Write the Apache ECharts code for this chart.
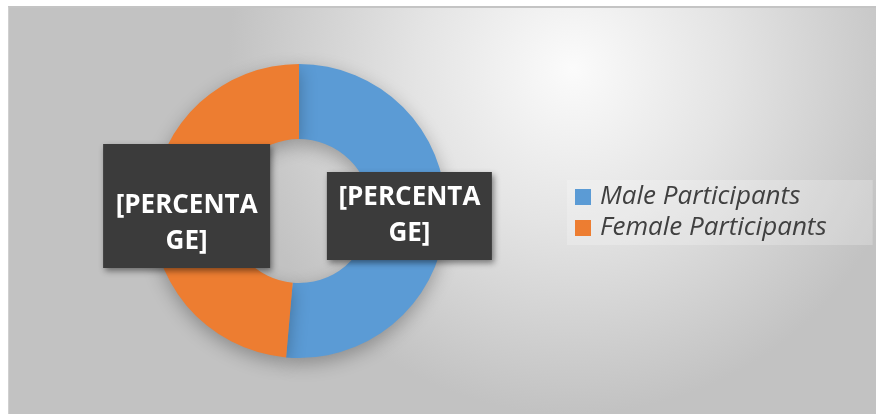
<!DOCTYPE html>
<html>
<head>
<meta charset="utf-8">
<script src="https://cdn.jsdelivr.net/npm/echarts@6/dist/echarts.min.js"></script>
<style>
  html, body { margin: 0; padding: 0; background: #ffffff; }
  #chart {
    position: absolute; left: 8px; top: 6px;
    width: 868px; height: 408px;
    border-top: 2px solid #c4c4c4; border-left: 1px solid #d0d0d0;
    box-sizing: border-box;
  }
</style>
</head>
<body>
<div id="chart"></div>
<script>
// data
var categories = ['Male Participants', 'Female Participants']
var shares = [51.4, 48.6]
var labelText = ['[PERCENTA\nGE]', '[PERCENTA\nGE]']
var colors = ['#5B9BD5', '#ED7D31']

var chart = echarts.init(document.getElementById('chart'))

// label boxes: the female one is taller, its text sits low (blank line on top)
var labelPads = [[8, 11, 8, 11], [8, 12, 8, 12]]
var labelSpacer = [false, true]

var pieData = categories.map(function (name, i) {
  return {
    name: name,
    value: shares[i],
    itemStyle: { color: colors[i] },
    label: { padding: labelPads[i], offset: [i === 0 ? -2 : 0, 0] }
  }
})

chart.setOption({
  backgroundColor: {
    type: 'radial', x: 0.65, y: 0.15, r: 0.85,
    colorStops: [
      { offset: 0, color: '#fbfbfb' },
      { offset: 0.45, color: '#e4e4e4' },
      { offset: 1, color: '#c2c2c2' }
    ]
  },
  legend: {
    orient: 'vertical',
    left: 558, top: 172,
    icon: 'rect',
    itemWidth: 16, itemHeight: 16,
    itemGap: 5,
    backgroundColor: 'rgba(255,255,255,0.22)',
    padding: [4, 46, 4, 8],
    textStyle: {
      fontFamily: 'Open Sans', fontStyle: 'italic',
      fontSize: 26, color: '#404040', padding: [0, 0, 0, 4]
    },
    data: categories
  },
  series: [{
    type: 'pie',
    center: [290, 203],
    radius: [72, 147],
    startAngle: 90,
    clockwise: true,
    silent: true,
    avoidLabelOverlap: false,
    itemStyle: {
      shadowColor: 'rgba(0,0,0,0.28)', shadowBlur: 18, shadowOffsetY: 6
    },
    label: {
      show: true,
      position: 'inside',
      formatter: function (p) {
        return (labelSpacer[p.dataIndex] ? '\n' : '') + labelText[p.dataIndex]
      },
      fontFamily: 'Open Sans', fontWeight: 'bold', fontSize: 26,
      lineHeight: 36,
      width: 143,
      color: '#ffffff',
      align: 'center',
      backgroundColor: '#3b3b3b',
      shadowColor: 'rgba(0,0,0,0.45)', shadowBlur: 6, shadowOffsetX: 2, shadowOffsetY: 3
    },
    labelLine: { show: false },
    data: pieData
  }]
})
</script>
</body>
</html>
